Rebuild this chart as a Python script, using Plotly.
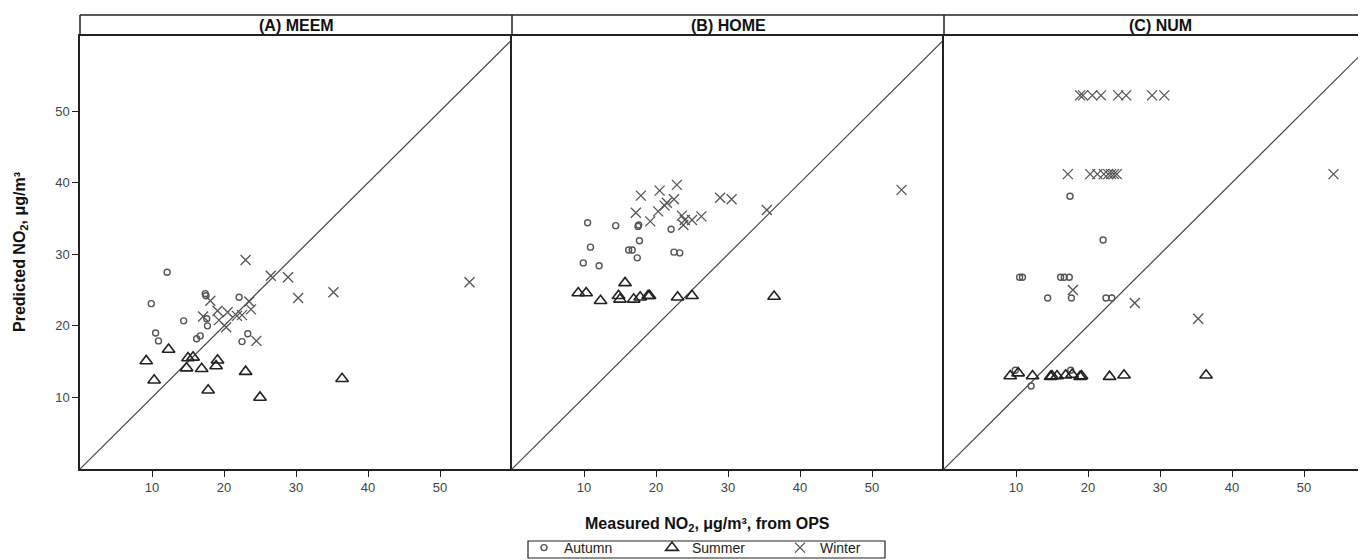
import plotly.graph_objects as go

# ---------------- data ----------------
autumn_x = [9.9, 10.5, 10.9, 12.1, 14.4, 16.2, 16.7, 17.4, 17.5, 17.6, 17.7, 22.1, 22.5, 23.3]
autumn_meem = [23.1, 19.0, 17.9, 27.5, 20.7, 18.2, 18.6, 24.5, 24.2, 21.0, 20.0, 24.0, 17.8, 18.9]
autumn_home = [28.8, 34.4, 31.0, 28.4, 34.0, 30.6, 30.6, 29.5, 33.9, 34.1, 31.9, 33.5, 30.3, 30.2]
autumn_num = [13.8, 26.8, 26.8, 11.6, 23.9, 26.8, 26.8, 26.8, 38.1, 13.8, 23.9, 32.0, 23.9, 23.9]

summer_x = [9.2, 10.3, 12.3, 14.8, 15.0, 15.7, 16.9, 17.8, 18.9, 19.1, 23.0, 25.0, 36.4]
summer_meem = [15.1, 12.4, 16.7, 14.1, 15.5, 15.6, 14.0, 11.0, 14.4, 15.2, 13.6, 10.0, 12.6]
summer_home = [24.6, 24.6, 23.5, 24.2, 23.7, 26.0, 23.7, 24.0, 24.2, 24.2, 24.0, 24.2, 24.1]
summer_num = [13.0, 13.4, 13.0, 12.9, 13.0, 13.0, 13.1, 13.2, 12.9, 13.0, 12.9, 13.1, 13.1]

winter_meem_x = [17.1, 18.1, 19.1, 19.3, 20.3, 20.5, 21.8, 22.5, 23.0, 23.5, 23.75, 24.5, 26.5, 28.9, 30.3, 35.2, 54.1]
winter_meem_y = [21.3, 23.5, 22.1, 20.8, 19.8, 21.9, 21.4, 21.5, 29.2, 23.4, 22.3, 17.9, 27.0, 26.8, 23.9, 24.7, 26.1]
winter_home_x = [17.2, 17.9, 19.2, 20.3, 20.5, 21.2, 21.5, 22.5, 22.9, 23.6, 23.8, 24.0, 25.0, 26.3, 28.9, 30.5, 35.4, 54.1]
winter_home_y = [35.8, 38.2, 34.6, 36.0, 38.9, 36.8, 37.2, 37.7, 39.7, 35.4, 34.1, 34.8, 34.8, 35.3, 37.9, 37.7, 36.2, 39.0]
winter_num_x = [18.9, 19.3, 20.6, 21.8, 24.2, 25.3, 28.9, 30.6,
                17.2, 20.3, 21.3, 22.2, 22.8, 23.2, 23.6, 24.0, 54.1, 35.3, 26.5, 17.9]
winter_num_y = [52.2, 52.2, 52.2, 52.2, 52.2, 52.2, 52.2, 52.2,
                41.2, 41.2, 41.2, 41.2, 41.2, 41.2, 41.2, 41.2, 41.2, 21.0, 23.2, 25.0]

panel_titles = ["(A) MEEM", "(B) HOME", "(C) NUM"]
ticks = [10, 20, 30, 40, 50]
axis_min, axis_max = 0, 60
diag = [0, 60]

# ---------------- layout geometry (pixels) ----------------
# the page body adds an 8px margin, so the figure is drawn 8px smaller
OFF = 8
W, H = 1366 - OFF, 560 - OFF
PL, PT, PB = 80, 36, 469          # plot-area edges in page pixels
L, R, T = PL - OFF, 0, PT - OFF
B = H - (PB - OFF)
pw = W - L - R
ph = H - T - B
panel_px = 432
strip_px = 21

def px2x(px):
    return (px - PL) / pw

def py2y(py):
    return (PB - py) / ph

fig = go.Figure()

panels = [
    (autumn_meem, summer_meem, winter_meem_x, winter_meem_y),
    (autumn_home, summer_home, winter_home_x, winter_home_y),
    (autumn_num, summer_num, winter_num_x, winter_num_y),
]

mk_gray = "#555555"
for i, (a_y, s_y, w_x, w_y) in enumerate(panels):
    xa = "x" if i == 0 else f"x{i+1}"
    ya = "y" if i == 0 else f"y{i+1}"
    show = i == 0
    fig.add_trace(go.Scatter(x=diag, y=diag, mode="lines", line=dict(color="#444444", width=1.2),
                             showlegend=False, hoverinfo="skip", xaxis=xa, yaxis=ya))
    fig.add_trace(go.Scatter(x=autumn_x, y=a_y, mode="markers", name="Autumn", legendgroup="a",
                             showlegend=show, xaxis=xa, yaxis=ya,
                             marker=dict(symbol="circle-open", size=6, color=mk_gray,
                                         line=dict(width=1.4, color=mk_gray))))
    fig.add_trace(go.Scatter(x=summer_x, y=s_y, mode="markers", name="Summer", legendgroup="s",
                             showlegend=show, xaxis=xa, yaxis=ya,
                             marker=dict(symbol="triangle-up-open", size=11, color="#222222",
                                         line=dict(width=1.6, color="#222222"))))
    fig.add_trace(go.Scatter(x=w_x, y=w_y, mode="markers", name="Winter", legendgroup="w",
                             showlegend=show, xaxis=xa, yaxis=ya,
                             marker=dict(symbol="x-thin", size=10, color=mk_gray,
                                         line=dict(width=1.3, color=mk_gray))))

tick_font = dict(family="Liberation Sans, Arial, sans-serif", size=13, color="#444444")
layout = dict(
    width=W, height=H,
    margin=dict(l=L, r=R, t=T, b=B, pad=0, autoexpand=False),
    paper_bgcolor="white", plot_bgcolor="white",
    font=dict(family="Liberation Sans, Arial, sans-serif", color="#222222"),
    showlegend=True,
    legend=dict(orientation="h", x=px2x(524), xanchor="left", y=py2y(532), yanchor="top",
                bgcolor="rgba(0,0,0,0)", borderwidth=0, font=dict(size=14, color="#222222"),
                entrywidth=83, itemwidth=30, tracegroupgap=0),
)
for i in range(3):
    x0 = i * panel_px
    x1 = min(x0 + panel_px, pw)
    dom = [x0 / pw, x1 / pw]
    xr = [0, (x1 - x0) / panel_px * (axis_max - axis_min)]
    xk = "xaxis" if i == 0 else f"xaxis{i+1}"
    yk = "yaxis" if i == 0 else f"yaxis{i+1}"
    layout[xk] = dict(domain=dom, range=xr, tickvals=ticks, ticks="outside", ticklen=6,
                      tickcolor="#222222", tickwidth=1.2, showgrid=False, zeroline=False,
                      showline=True, linecolor="#222222", linewidth=1.5, mirror=True,
                      tickfont=tick_font, anchor="y" if i == 0 else f"y{i+1}")
    layout[yk] = dict(domain=[0, 1], range=[axis_min, axis_max + 0.5], tickvals=ticks,
                      showticklabels=(i == 0), ticks="outside" if i == 0 else "", ticklen=6,
                      tickcolor="#222222", tickwidth=1.2, showgrid=False, zeroline=False,
                      showline=True, linecolor="#222222", linewidth=1.5, mirror=False,
                      tickfont=tick_font, anchor="x" if i == 0 else f"x{i+1}")
fig.update_layout(**layout)

shapes = []
top = 1 + strip_px / ph
shapes.append(dict(type="line", xref="paper", yref="paper", x0=0, x1=1, y0=top, y1=top,
                   line=dict(color="#222222", width=1.5)))
for i in range(3):
    xp = px2x(PL + i * panel_px)
    shapes.append(dict(type="line", xref="paper", yref="paper", x0=xp, x1=xp, y0=1, y1=top,
                       line=dict(color="#222222", width=1.5)))
# legend frame
shapes.append(dict(type="rect", xref="paper", yref="paper",
                   x0=px2x(528), x1=px2x(885), y0=py2y(558), y1=py2y(541),
                   line=dict(color="#222222", width=1.2), fillcolor="rgba(0,0,0,0)"))
fig.update_layout(shapes=shapes)

title_font = dict(family="Liberation Sans, Arial, sans-serif", size=16, color="#111111")
ann = []
for i, t in enumerate(panel_titles):
    ann.append(dict(text=f"<b>{t}</b>", xref="paper", yref="paper",
                    x=px2x(PL + i * panel_px + panel_px / 2), y=py2y(25.5),
                    xanchor="center", yanchor="middle", showarrow=False, font=title_font))
ann.append(dict(text="<b>Measured NO<sub>2</sub>, μg/m³, from OPS</b>", xref="paper", yref="paper",
                x=px2x(707), y=py2y(524), xanchor="center", yanchor="middle", showarrow=False,
                font=title_font))
ann.append(dict(text="<b>Predicted NO<sub>2</sub>, μg/m³</b>", xref="paper", yref="paper",
                x=px2x(21), y=py2y(252), xanchor="center", yanchor="middle", showarrow=False,
                textangle=-90, font=title_font))
fig.update_layout(annotations=ann)

fig.write_html("out.html")
